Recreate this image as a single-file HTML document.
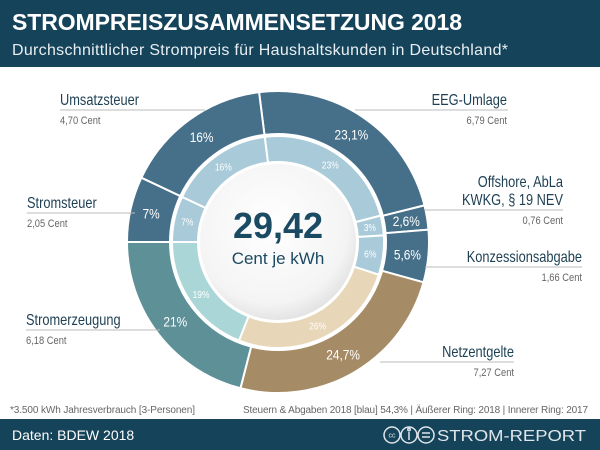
<!DOCTYPE html>
<html><head><meta charset="utf-8"><style>
body{margin:0;background:#fff}
svg{display:block;font-family:"Liberation Sans",sans-serif}
</style></head><body>
<svg id="c" width="600" height="450" viewBox="0 0 600 450">
<defs>
<radialGradient id="wg" cx="45%" cy="40%" r="65%"><stop offset="0" stop-color="#ffffff"/><stop offset="0.75" stop-color="#f4f4f4"/><stop offset="1" stop-color="#dcdcdc"/></radialGradient>
</defs>
<rect x="0" y="0" width="600" height="450" fill="#fff"/>
<rect x="0" y="0" width="600" height="67" fill="#15435a"/>
<text x="12" y="30" font-size="23" font-weight="bold" fill="#fff" textLength="450">STROMPREISZUSAMMENSETZUNG 2018</text>
<text x="12" y="55" font-size="16" fill="#e8eef2" textLength="496">Durchschnittlicher Strompreis für Haushaltskunden in Deutschland*</text>
<g id="rings"></g>
<g id="labels"></g>
<circle cx="278" cy="242" r="79" fill="url(#wg)" stroke="#fff" stroke-width="2"/>
<text x="278" y="238" text-anchor="middle" font-size="36" font-weight="bold" fill="#1b4a63">29,42</text>
<text x="278" y="264" text-anchor="middle" font-size="17" fill="#1b4a63">Cent je kWh</text>
<text x="10" y="413" font-size="10" fill="#666" textLength="185">*3.500 kWh Jahresverbrauch [3-Personen]</text>
<text x="588" y="413" font-size="10" fill="#666" text-anchor="end" textLength="345">Steuern &amp; Abgaben 2018 [blau] 54,3%  |  Äußerer Ring: 2018  |  Innerer Ring: 2017</text>
<rect x="0" y="419" width="600" height="31" fill="#15435a"/>
<text x="12" y="440" font-size="14" fill="#fff">Daten: BDEW 2018</text>
<g fill="none" stroke="#dfe6ea" stroke-width="1.5">
<circle cx="392" cy="435" r="8"/><circle cx="409" cy="435" r="8"/><circle cx="426" cy="435" r="8"/>
<line x1="422" y1="433" x2="430" y2="433"/><line x1="422" y1="437" x2="430" y2="437"/><line x1="409" y1="432" x2="409" y2="440"/><circle cx="409" cy="429.5" r="1.2"/>
</g>
<text x="392" y="437.5" font-size="7" fill="#dfe6ea" text-anchor="middle">cc</text>
<text x="437" y="441" font-size="16" fill="#dfe6ea" textLength="149" lengthAdjust="spacingAndGlyphs">STROM-REPORT</text>
</svg>
<script>
const categories = ["EEG-Umlage","Offshore","Konzessionsabgabe","Netzentgelte","Stromerzeugung","Stromsteuer","Umsatzsteuer"];
const outerValues = [23.1,2.6,5.6,24.7,21,7,16];
const outerLabels = ["23,1%","2,6%","5,6%","24,7%","21%","7%","16%"];
const innerValues = [23,3,6,26,19,7,16];
const innerLabels = ["23%","3%","6%","26%","19%","7%","16%"];
const outerColors = ["#466f89","#466f89","#466f89","#a58c66","#5e9098","#466f89","#466f89"];
const innerColors = ["#a9cad8","#a9cad8","#a9cad8","#e7d6b7","#abd6d8","#a9cad8","#a9cad8"];
const CX=278, CY=242, START=-7.2;
const NS="http://www.w3.org/2000/svg";
function pt(r,deg){const a=(deg-90)*Math.PI/180;return [CX+r*Math.cos(a),CY+r*Math.sin(a)];}
function arc(r0,r1,a0,a1){const p0=pt(r1,a0),p1=pt(r1,a1),p2=pt(r0,a1),p3=pt(r0,a0);const l=(a1-a0)>180?1:0;
return `M${p0[0]},${p0[1]}A${r1},${r1} 0 ${l} 1 ${p1[0]},${p1[1]}L${p2[0]},${p2[1]}A${r0},${r0} 0 ${l} 0 ${p3[0]},${p3[1]}Z`;}
function squeeze(t,f){const w=t.getComputedTextLength();if(w>0){t.setAttribute('textLength',(w*f).toFixed(1));t.setAttribute('lengthAdjust','spacingAndGlyphs');}}
const g=document.getElementById('rings');
function ring(vals,labs,cols,r0,r1,lr,fs,pre){
  const tot=vals.reduce((a,b)=>a+b,0);let a=START;
  vals.forEach((v,i)=>{const s=v/tot*360;
    const p=document.createElementNS(NS,'path');
    p.setAttribute('d',arc(r0,r1,a,a+s));p.setAttribute('fill',cols[i]);p.setAttribute('stroke','#fff');p.setAttribute('stroke-width','2');
    
    
    g.appendChild(p);
    const m=pt(lr,a+s/2);const t=document.createElementNS(NS,'text');
    t.setAttribute('x',m[0]);t.setAttribute('y',m[1]+fs*0.36);t.setAttribute('text-anchor','middle');t.setAttribute('font-size',fs);t.setAttribute('fill','#fff');
    t.textContent=labs[i];
    
    
    g.appendChild(t);squeeze(t,0.85);a+=s;});
}
ring(outerValues,outerLabels,outerColors,108,151,130,14,'outer');
ring(innerValues,innerLabels,innerColors,80,106,93,10,'inner');
const lg=document.getElementById('labels');
const items=[
 {n:"Umsatzsteuer",c:"4,70 Cent",x:60,y:105,anchor:"start",lx1:60,lx2:205},
 {n:"Stromsteuer",c:"2,05 Cent",x:27,y:208,anchor:"start",lx1:27,lx2:135},
 {n:"Stromerzeugung",c:"6,18 Cent",x:26,y:325,anchor:"start",lx1:26,lx2:160},
 {n:"EEG-Umlage",c:"6,79 Cent",x:507,y:105,anchor:"end",lx1:355,lx2:508},
 {n:"KWKG, § 19 NEV",n0:"Offshore, AbLa",c:"0,76 Cent",x:563,y:205,anchor:"end",lx1:425,lx2:563},
 {n:"Konzessionsabgabe",c:"1,66 Cent",x:582,y:262,anchor:"end",lx1:425,lx2:582},
 {n:"Netzentgelte",c:"7,27 Cent",x:514,y:357,anchor:"end",lx1:380,lx2:514}];
items.forEach(it=>{
  const ln=document.createElementNS(NS,'line');
  ln.setAttribute('x1',it.lx1);ln.setAttribute('x2',it.lx2);ln.setAttribute('y1',it.y+5);ln.setAttribute('y2',it.y+5);ln.setAttribute('stroke','#bbb');ln.setAttribute('stroke-width','1');
  
  
  lg.insertBefore(ln,lg.firstChild);
  if(it.n0){const t0=document.createElementNS(NS,'text');t0.setAttribute('x',it.x);t0.setAttribute('y',it.y-18);t0.setAttribute('text-anchor',it.anchor);t0.setAttribute('font-size','16');t0.setAttribute('fill','#1d3f52');t0.textContent=it.n0;
    
    
    lg.appendChild(t0);squeeze(t0,0.8);}
  const t=document.createElementNS(NS,'text');t.setAttribute('x',it.x);t.setAttribute('y',it.y);t.setAttribute('text-anchor',it.anchor);t.setAttribute('font-size','16');t.setAttribute('fill','#1d3f52');t.textContent=it.n;
  
  
  lg.appendChild(t);squeeze(t,0.8);
  const c=document.createElementNS(NS,'text');c.setAttribute('x',it.x);c.setAttribute('y',it.y+19);c.setAttribute('text-anchor',it.anchor);c.setAttribute('font-size','11');c.setAttribute('fill','#666');c.textContent=it.c;
  
  
  lg.appendChild(c);squeeze(c,0.85);
});
</script>
</body></html>
